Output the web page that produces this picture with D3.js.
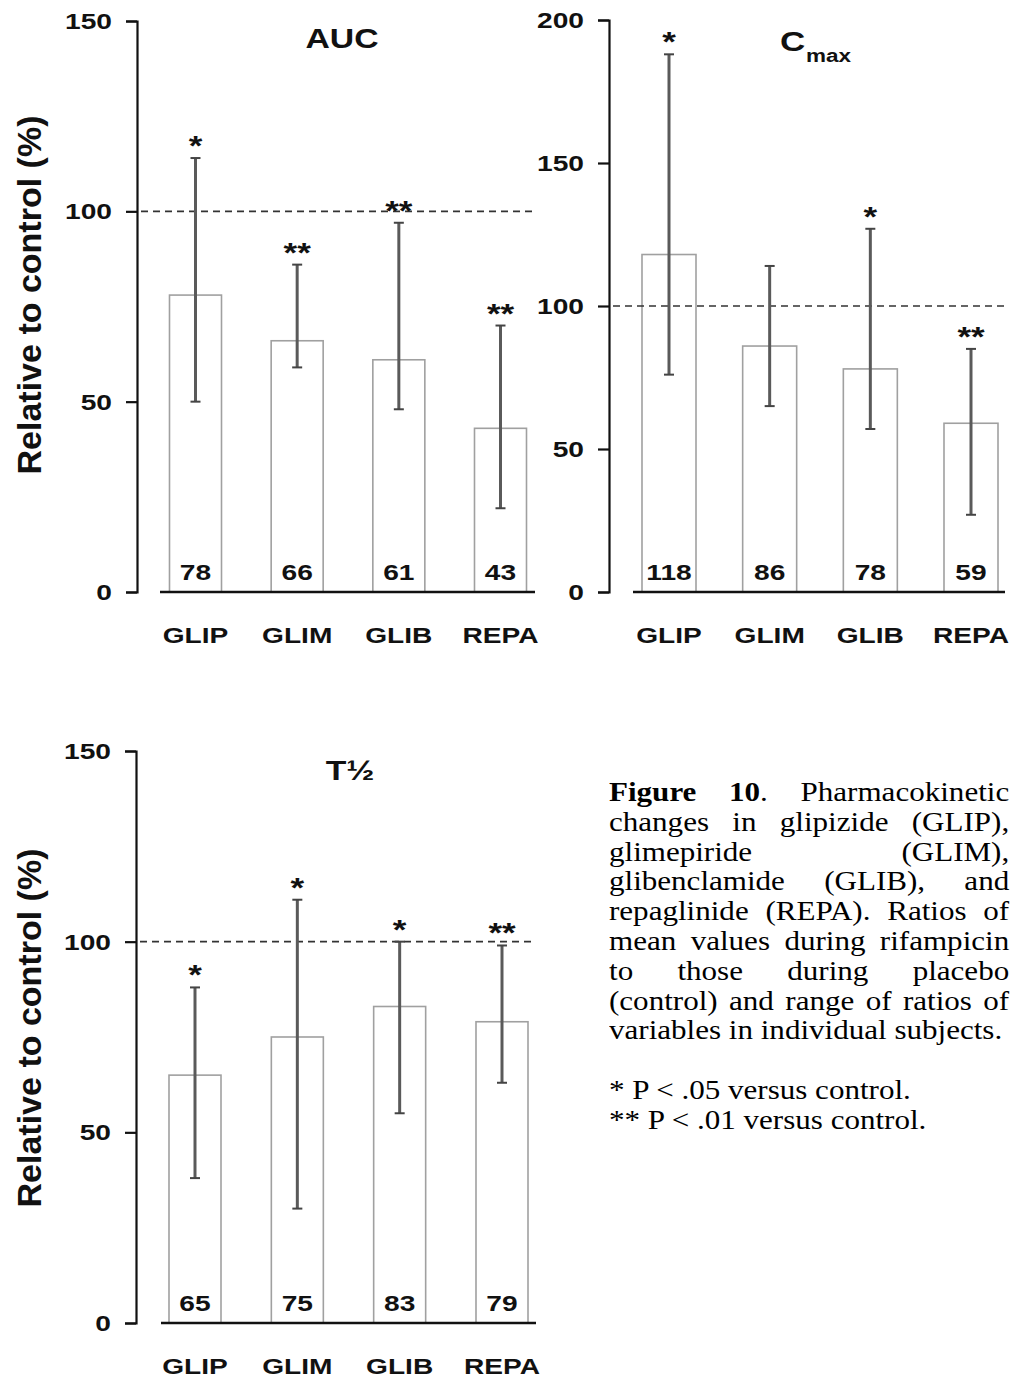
<!DOCTYPE html>
<html>
<head>
<meta charset="utf-8">
<script src="https://cdn.jsdelivr.net/npm/d3@7"></script>
<style>
  body { margin: 0; background: #fff; }
  #wrap { position: relative; width: 1013px; height: 1379px; overflow: hidden; }
  #caption { position: absolute; left: 609px; top: 778px; font-family: "Liberation Serif", "Times New Roman", serif;
             font-size: 27px; color: #000; width: 348px; transform: scaleX(1.15); transform-origin: 0 0; }
  #caption .ln { height: 29.8px; line-height: 29.8px; white-space: nowrap; }
  #caption .j { text-align: justify; text-align-last: justify; white-space: normal; }
</style>
</head>
<body>
<div id="wrap"></div>
<script>
const drugs = ["GLIP", "GLIM", "GLIB", "REPA"];

const aucMean = [78, 66, 61, 43];
const aucLow  = [50, 59, 48, 22];
const aucHigh = [114, 86, 97, 70];
const aucSig  = ["*", "**", "**", "**"];
const aucTicks = [0, 50, 100, 150];

const cmaxMean = [118, 86, 78, 59];
const cmaxLow  = [76, 65, 57, 27];
const cmaxHigh = [188, 114, 127, 85];
const cmaxSig  = ["*", "", "*", "**"];
const cmaxTicks = [0, 50, 100, 150, 200];

const thalfMean = [65, 75, 83, 79];
const thalfLow  = [38, 30, 55, 63];
const thalfHigh = [88, 111, 100, 99];
const thalfSig  = ["*", "*", "*", "**"];
const thalfTicks = [0, 50, 100, 150];

const captionLines = [
    ["j", "<b>Figure 10</b>. Pharmacokinetic"],
    ["j", "changes in glipizide (GLIP),"],
    ["j", "glimepiride (GLIM),"],
    ["j", "glibenclamide (GLIB), and"],
    ["j", "repaglinide (REPA). Ratios of"],
    ["j", "mean values during rifampicin"],
    ["j", "to those during placebo"],
    ["j", "(control) and range of ratios of"],
    ["", "variables in individual subjects."],
    ["", "&nbsp;"],
    ["", "* P &lt; .05 versus control."],
    ["", "** P &lt; .01 versus control."]
];

const SX = 1.25;   // source figure is stretched sideways
const FONT = "'Liberation Sans', Arial, sans-serif";

const svg = d3.select("#wrap").append("svg")
    .attr("width", 1013)
    .attr("height", 1379)
    .style("position", "absolute")
    .style("left", 0).style("top", 0);

function stext(g, x, y, str, size, anchor) {
    return g.append("text")
        .attr("transform", "translate(" + x + "," + y + ") scale(" + SX + ",1)")
        .attr("text-anchor", anchor || "middle")
        .style("font-family", FONT)
        .style("font-weight", "bold")
        .style("font-size", size + "px")
        .attr("fill", "#111")
        .text(str);
}

function drawPanel(p) {
    const g = svg.append("g");

    let y = d3.scaleLinear()
        .domain([0, p.ticks[p.ticks.length - 1]])
        .range([p.y0, p.yTop]);

    let x = d3.scalePoint()
        .domain(drugs)
        .range([p.c0, p.c1]);

    // y axis
    let ax = g.append("g")
        .attr("transform", "translate(" + p.axisX + ",0)")
        .call(d3.axisLeft(y).tickValues(p.ticks).tickSize(11).tickSizeOuter(11).tickFormat(""));
    ax.selectAll("path, line").attr("stroke", "#111").attr("stroke-width", 2.2);

    p.ticks.forEach(t => {
        stext(g, p.axisX - 25, y(t) + 8, t, 22.5, "end");
    });

    // bars
    const w = p.barW;
    g.selectAll("rect.bar")
        .data(p.mean)
        .enter()
        .append("rect")
        .attr("class", "bar")
        .attr("x", (d, i) => x(drugs[i]) - w / 2)
        .attr("y", d => y(d))
        .attr("width", w)
        .attr("height", d => p.y0 - y(d))
        .attr("fill", "#fff")
        .attr("stroke", "#a0a0a0")
        .attr("stroke-width", 1.6);

    // reference line at 100
    g.append("line")
        .attr("x1", p.axisX + 4).attr("x2", p.baseX1)
        .attr("y1", y(100)).attr("y2", y(100))
        .attr("stroke", "#333")
        .attr("stroke-width", 1.6)
        .attr("stroke-dasharray", "7,5");

    // range bars
    drugs.forEach((d, i) => {
        const cx = x(d);
        g.append("line")
            .attr("x1", cx).attr("x2", cx)
            .attr("y1", y(p.low[i])).attr("y2", y(p.high[i]))
            .attr("stroke", "#5a5a5a").attr("stroke-width", 3);
        [p.low[i], p.high[i]].forEach(v => {
            g.append("line")
                .attr("x1", cx - 5).attr("x2", cx + 5)
                .attr("y1", y(v)).attr("y2", y(v))
                .attr("stroke", "#444").attr("stroke-width", 2);
        });
        if (p.sig[i]) {
            stext(g, cx, y(p.high[i]) - 3, p.sig[i], 28);
        }
        stext(g, cx, p.y0 - 12, p.mean[i], 22.5);
        stext(g, cx, p.y0 + 51, d, 22.5);
    });

    // baseline
    g.append("line")
        .attr("x1", p.baseX0).attr("x2", p.baseX1)
        .attr("y1", p.y0).attr("y2", p.y0)
        .attr("stroke", "#111")
        .attr("stroke-width", 2.6);

    // axis title
    if (p.ylabel) {
        g.append("text")
            .attr("transform", "translate(41," + p.labelY + ") rotate(-90)")
            .attr("text-anchor", "middle")
            .style("font-family", FONT)
            .style("font-weight", "bold")
            .style("font-size", "34px")
            .attr("fill", "#111")
            .text(p.ylabel);
    }

    p.title(g);
}

drawPanel({
    mean: aucMean, low: aucLow, high: aucHigh, sig: aucSig, ticks: aucTicks,
    y0: 592, yTop: 21, axisX: 137, c0: 195.5, c1: 500.5, barW: 52,
    baseX0: 160, baseX1: 535, ylabel: "Relative to control (%)", labelY: 295,
    title: g => stext(g, 342, 48, "AUC", 27)
});

drawPanel({
    mean: cmaxMean, low: cmaxLow, high: cmaxHigh, sig: cmaxSig, ticks: cmaxTicks,
    y0: 592, yTop: 20, axisX: 609, c0: 669, c1: 971, barW: 54,
    baseX0: 633, baseX1: 1005, ylabel: null,
    title: g => {
        stext(g, 780, 51, "C", 28, "start");
        stext(g, 806, 62, "max", 18, "start");
    }
});

drawPanel({
    mean: thalfMean, low: thalfLow, high: thalfHigh, sig: thalfSig, ticks: thalfTicks,
    y0: 1323, yTop: 751, axisX: 136, c0: 195, c1: 502, barW: 52,
    baseX0: 161, baseX1: 536, ylabel: "Relative to control (%)", labelY: 1028,
    title: g => stext(g, 350, 780, "T\u00BD", 27)
});

// caption
d3.select("#wrap").append("div")
    .attr("id", "caption")
    .selectAll("div")
    .data(captionLines)
    .enter()
    .append("div")
    .attr("class", d => "ln " + d[0])
    .html(d => d[1]);
</script>
</body>
</html>
